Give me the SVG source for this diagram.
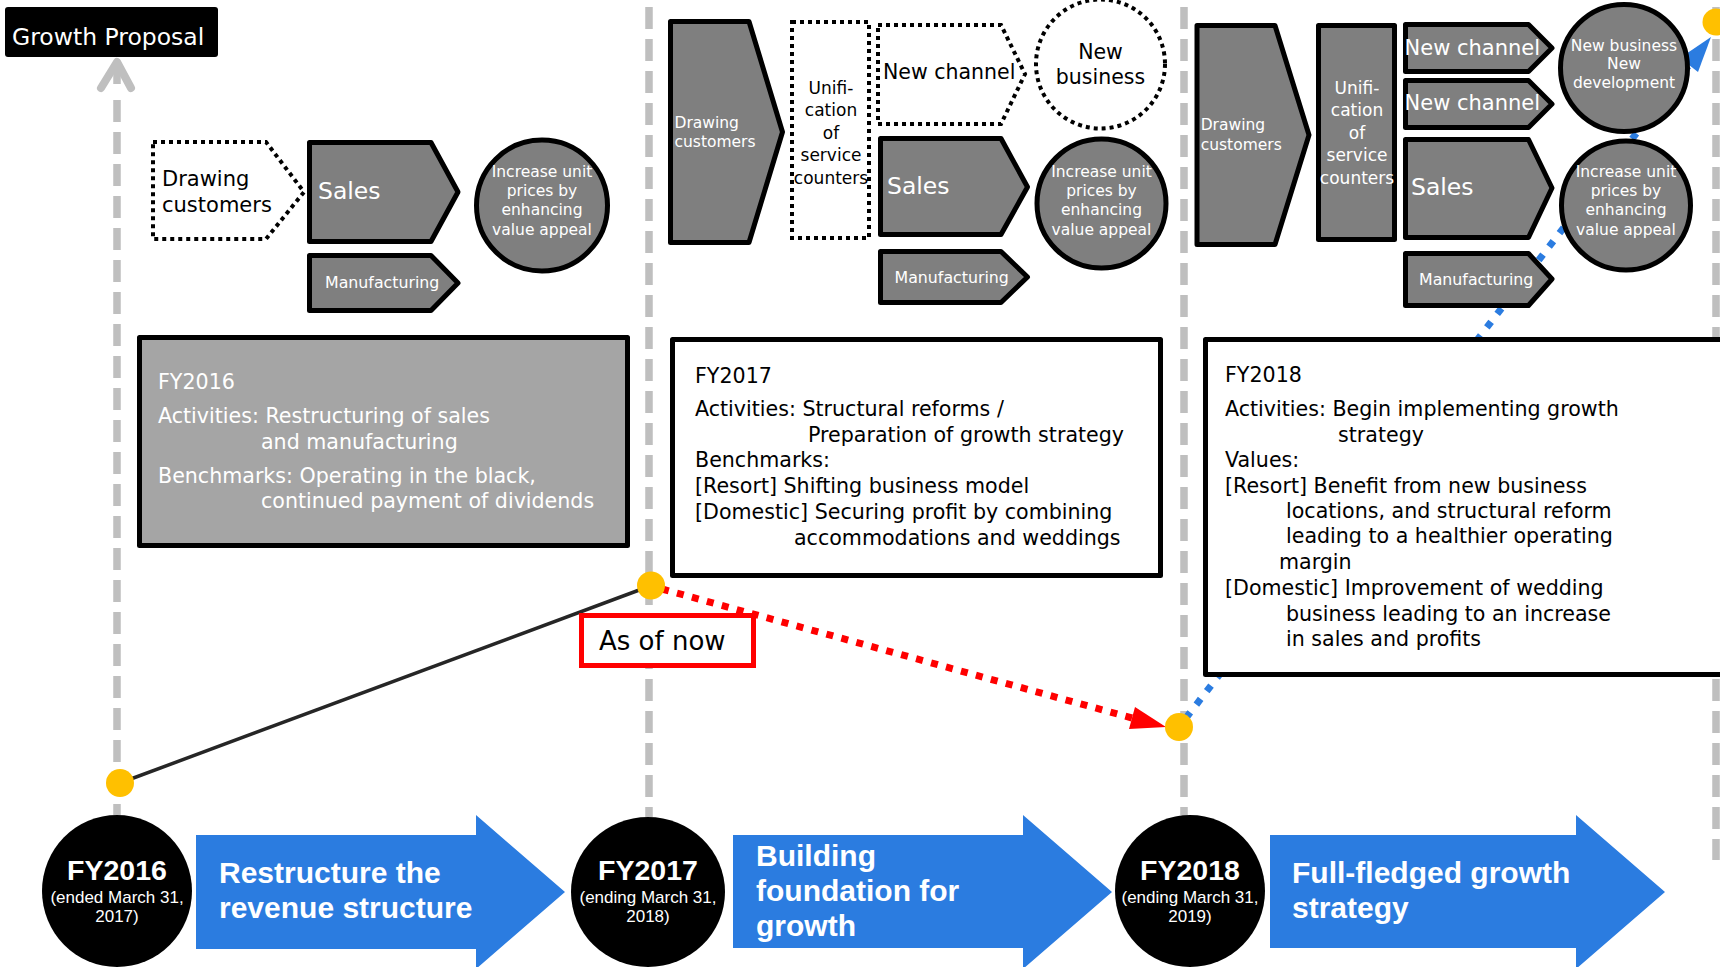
<svg xmlns="http://www.w3.org/2000/svg" width="1720" height="967" viewBox="0 0 1720 967">
<defs>
<style>
.t{font-family:"DejaVu Sans","Liberation Sans",sans-serif}
.b{font-family:"Liberation Sans",Arial,sans-serif;font-weight:bold}
.r{font-family:"Liberation Sans",Arial,sans-serif}
.w{fill:#fff}
.k{fill:#000}
.c{text-anchor:middle}
.shape{fill:#7f7f7f;stroke:#000;stroke-width:5;stroke-linejoin:round}
.dotted{fill:#fff;stroke:#000;stroke-width:4;stroke-dasharray:4 4}
.guide{fill:none;stroke:#bfbfbf;stroke-width:7.5;stroke-dasharray:22 10}
.blue{fill:#2b7ce0}
.yel{fill:#ffc000}
</style>
</defs>
<rect width="1720" height="967" fill="#fff"/>

<g id="guides">
<line class="guide" x1="117" y1="100" x2="117" y2="815"/>
<polyline points="101,88 117,62 131,88" fill="none" stroke="#bfbfbf" stroke-width="8" stroke-linecap="round" stroke-linejoin="round"/>
<line class="guide" x1="117" y1="62" x2="117" y2="90" stroke-dasharray="none"/>
<line class="guide" x1="649" y1="7" x2="649" y2="817"/>
<line class="guide" x1="1184" y1="7" x2="1184" y2="815"/>
<line class="guide" x1="1716" y1="7" x2="1716" y2="860"/>
</g>

<g id="connectors">
<line x1="120" y1="783" x2="650" y2="586" stroke="#262626" stroke-width="3.5"/>
<line x1="662" y1="589" x2="1132" y2="718" stroke="#ff0000" stroke-width="7" stroke-dasharray="7 8.5"/>
<polygon points="1166,727 1135,707 1129,729" fill="#ff0000"/>
<line x1="1186" y1="718" x2="1689" y2="65" stroke="#2b7ce0" stroke-width="7" stroke-dasharray="7 10"/>
<polygon points="1711,37 1698,72 1680,58" class="blue"/>
</g>

<g id="growth-proposal">
<rect x="5" y="7" width="213" height="50" rx="3" class="k"/>
<text x="12" y="45" class="t w" font-size="23.5">Growth Proposal</text>
</g>

<!-- FY2016 top shapes -->
<g id="fy16-drawing">
<path class="dotted" d="M153,142 L266,142 L304,192 L266,239 L153,239 Z"/>
<text class="t k" font-size="21"><tspan x="162" y="186">Drawing</tspan><tspan x="162" y="212">customers</tspan></text>
</g>
<g id="fy16-sales">
<path class="shape" d="M309.5,142.5 L431,142.5 L458,192 L431,241.5 L309.5,241.5 Z"/>
<text x="318" y="199" class="t w" font-size="23.5">Sales</text>
</g>
<g id="fy16-manufacturing">
<path class="shape" d="M309.5,255.5 L431,255.5 L458,283 L431,310.5 L309.5,310.5 Z"/>
<text x="325" y="288" class="t w" font-size="15.8">Manufacturing</text>
</g>
<g id="fy16-increase">
<circle cx="542" cy="205.5" r="65.5" class="shape"/>
<text class="t w c" font-size="15.5"><tspan x="542" y="177">Increase unit</tspan><tspan x="542" y="196">prices by</tspan><tspan x="542" y="215">enhancing</tspan><tspan x="542" y="235">value appeal</tspan></text>
</g>

<!-- FY2017 top shapes -->
<g id="fy17-drawing">
<path class="shape" d="M670.5,21.5 L749,21.5 L782.5,132 L749,242.5 L670.5,242.5 Z"/>
<text class="t w" font-size="15.5"><tspan x="674.5" y="128">Drawing</tspan><tspan x="674.5" y="147">customers</tspan></text>
</g>
<g id="fy17-unification">
<rect x="792" y="22" width="77" height="216" class="dotted"/>
<text class="t k c" font-size="17"><tspan x="831" y="93.5">Unifi-</tspan><tspan x="831" y="116">cation</tspan><tspan x="831" y="138.5">of</tspan><tspan x="831" y="161">service</tspan><tspan x="831" y="183.5">counters</tspan></text>
</g>
<g id="fy17-newchannel">
<path class="dotted" d="M878,25 L1001,25 L1025,74 L1001,124 L878,124 Z"/>
<text x="883" y="79" class="t k" font-size="20.5">New channel</text>
</g>
<g id="fy17-newbusiness">
<circle cx="1100.5" cy="64" r="64.5" class="dotted"/>
<text class="t k c" font-size="20.5"><tspan x="1100.5" y="59">New</tspan><tspan x="1100.5" y="84">business</tspan></text>
</g>
<g id="fy17-sales">
<path class="shape" d="M880.5,138.5 L1001,138.5 L1027.5,187 L1001,234.5 L880.5,234.5 Z"/>
<text x="887" y="194" class="t w" font-size="23.5">Sales</text>
</g>
<g id="fy17-manufacturing">
<path class="shape" d="M880.5,251.5 L1001,251.5 L1027.5,277 L1001,302.5 L880.5,302.5 Z"/>
<text x="894.5" y="283" class="t w" font-size="15.8">Manufacturing</text>
</g>
<g id="fy17-increase">
<circle cx="1101.5" cy="203.5" r="64.5" class="shape"/>
<text class="t w c" font-size="15.5"><tspan x="1101.5" y="177">Increase unit</tspan><tspan x="1101.5" y="196">prices by</tspan><tspan x="1101.5" y="215">enhancing</tspan><tspan x="1101.5" y="235">value appeal</tspan></text>
</g>

<!-- FY2018 top shapes -->
<g id="fy18-drawing">
<path class="shape" d="M1197,25.5 L1275,25.5 L1309,135 L1275,244.5 L1197,244.5 Z"/>
<text class="t w" font-size="15.5"><tspan x="1200.7" y="130">Drawing</tspan><tspan x="1200.7" y="150">customers</tspan></text>
</g>
<g id="fy18-unification">
<rect x="1318.5" y="25.5" width="76" height="214" class="shape"/>
<text class="t w c" font-size="17"><tspan x="1357" y="93.5">Unifi-</tspan><tspan x="1357" y="116">cation</tspan><tspan x="1357" y="138.5">of</tspan><tspan x="1357" y="161">service</tspan><tspan x="1357" y="183.5">counters</tspan></text>
</g>
<g id="fy18-newchannel1">
<path class="shape" d="M1405.5,24.5 L1528.5,24.5 L1552,48 L1528.5,71.5 L1405.5,71.5 Z"/>
<text x="1404.5" y="55" class="t w" font-size="21">New channel</text>
</g>
<g id="fy18-newchannel2">
<path class="shape" d="M1405.5,80.5 L1528.5,80.5 L1552,104 L1528.5,127.5 L1405.5,127.5 Z"/>
<text x="1404.5" y="110" class="t w" font-size="21">New channel</text>
</g>
<g id="fy18-sales">
<path class="shape" d="M1405.5,139.5 L1528.5,139.5 L1552,188 L1528.5,237.5 L1405.5,237.5 Z"/>
<text x="1411" y="195" class="t w" font-size="23.5">Sales</text>
</g>
<g id="fy18-manufacturing">
<path class="shape" d="M1405.5,253.5 L1528.5,253.5 L1552,279 L1528.5,305.5 L1405.5,305.5 Z"/>
<text x="1419" y="285" class="t w" font-size="15.8">Manufacturing</text>
</g>
<g id="fy18-newbusiness">
<circle cx="1624" cy="68" r="63.5" class="shape"/>
<text class="t w c" font-size="15.5"><tspan x="1624" y="51">New business</tspan><tspan x="1624" y="69">New</tspan><tspan x="1624" y="88">development</tspan></text>
</g>
<g id="fy18-increase">
<circle cx="1626" cy="205.5" r="64.5" class="shape"/>
<text class="t w c" font-size="15.5"><tspan x="1626" y="177">Increase unit</tspan><tspan x="1626" y="196">prices by</tspan><tspan x="1626" y="215">enhancing</tspan><tspan x="1626" y="235">value appeal</tspan></text>
</g>

<!-- Description boxes -->
<g id="box-fy2016">
<rect x="139.5" y="337.5" width="488" height="208" fill="#a5a5a5" stroke="#000" stroke-width="5" stroke-linejoin="round"/>
<text class="t w" font-size="20.6"><tspan x="158" y="389">FY2016</tspan><tspan x="158" y="423">Activities: Restructuring of sales</tspan><tspan x="261" y="449">and manufacturing</tspan><tspan x="158" y="483">Benchmarks: Operating in the black,</tspan><tspan x="261" y="508">continued payment of dividends</tspan></text>
</g>
<g id="box-fy2017">
<rect x="672.5" y="339.5" width="488" height="236" fill="#fff" stroke="#000" stroke-width="5" stroke-linejoin="round"/>
<text class="t k" font-size="20.6"><tspan x="695" y="383">FY2017</tspan><tspan x="695" y="416">Activities: Structural reforms /</tspan><tspan x="808" y="442">Preparation of growth strategy</tspan><tspan x="695" y="467">Benchmarks:</tspan><tspan x="695" y="493">[Resort] Shifting business model</tspan><tspan x="695" y="519">[Domestic] Securing profit by combining</tspan><tspan x="794" y="545">accommodations and weddings</tspan></text>
</g>
<g id="box-fy2018">
<rect x="1205.5" y="339.5" width="600" height="335" fill="#fff" stroke="#000" stroke-width="5" stroke-linejoin="round"/>
<text class="t k" font-size="20.6"><tspan x="1225" y="382">FY2018</tspan><tspan x="1225" y="416">Activities: Begin implementing growth</tspan><tspan x="1338" y="442">strategy</tspan><tspan x="1225" y="466.5">Values:</tspan><tspan x="1225" y="493">[Resort] Benefit from new business</tspan><tspan x="1286" y="518">locations, and structural reform</tspan><tspan x="1286" y="543">leading to a healthier operating</tspan><tspan x="1279" y="569">margin</tspan><tspan x="1225" y="595">[Domestic] Improvement of wedding</tspan><tspan x="1286" y="621">business leading to an increase</tspan><tspan x="1286" y="646">in sales and profits</tspan></text>
</g>

<g id="as-of-now">
<rect x="581.5" y="615.5" width="172" height="50" fill="#fff" stroke="#ff0000" stroke-width="5"/>
<text x="599" y="650" class="t k" font-size="26">As of now</text>
</g>

<g id="points">
<circle cx="120" cy="783" r="14" class="yel"/>
<circle cx="651" cy="585.5" r="14" class="yel"/>
<circle cx="1179" cy="727" r="14" class="yel"/>
<circle cx="1716" cy="22" r="13.5" class="yel"/>
</g>

<!-- Timeline -->
<g id="fy2016-circle">
<ellipse cx="117" cy="891" rx="75" ry="76" class="k"/>
<text x="117" y="880" class="b w c" font-size="28.5">FY2016</text>
<text class="r w c" font-size="17"><tspan x="117" y="903">(ended March 31,</tspan><tspan x="117" y="922">2017)</tspan></text>
</g>
<g id="phase1-arrow">
<polygon points="196,835 476,835 476,815 565,892 476,969 476,949 196,949" class="blue"/>
<text class="b w" font-size="30"><tspan x="219" y="883">Restructure the</tspan><tspan x="219" y="918">revenue structure</tspan></text>
</g>
<g id="fy2017-circle">
<ellipse cx="648" cy="892" rx="77" ry="75" class="k"/>
<text x="648" y="880" class="b w c" font-size="28.5">FY2017</text>
<text class="r w c" font-size="17"><tspan x="648" y="903">(ending March 31,</tspan><tspan x="648" y="922">2018)</tspan></text>
</g>
<g id="phase2-arrow">
<polygon points="733,835 1023,835 1023,815 1112,892 1023,969 1023,948 733,948" class="blue"/>
<text class="b w" font-size="30"><tspan x="756" y="866">Building</tspan><tspan x="756" y="901">foundation for</tspan><tspan x="756" y="936">growth</tspan></text>
</g>
<g id="fy2018-circle">
<ellipse cx="1190" cy="891" rx="75" ry="76" class="k"/>
<text x="1190" y="880" class="b w c" font-size="28.5">FY2018</text>
<text class="r w c" font-size="17"><tspan x="1190" y="903">(ending March 31,</tspan><tspan x="1190" y="922">2019)</tspan></text>
</g>
<g id="phase3-arrow">
<polygon points="1270,835 1576,835 1576,815 1665,892 1576,969 1576,948 1270,948" class="blue"/>
<text class="b w" font-size="30"><tspan x="1292" y="883">Full-fledged growth</tspan><tspan x="1292" y="918">strategy</tspan></text>
</g>
</svg>
